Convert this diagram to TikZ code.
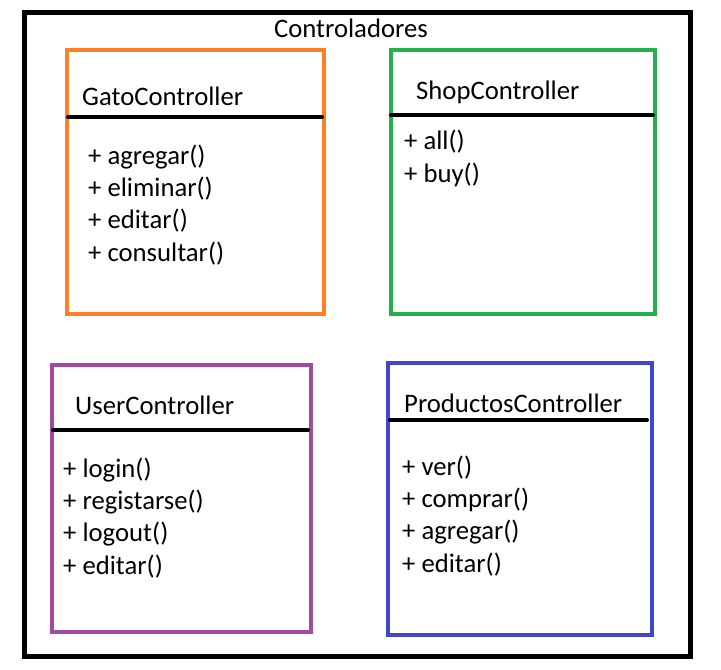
\documentclass[tikz,border=0pt]{standalone}
\usepackage{fontspec}
\setmainfont{Carlito}
\usetikzlibrary{positioning}

\definecolor{gatoorange}{HTML}{FF7F27}
\definecolor{shopgreen}{HTML}{22B14C}
\definecolor{userpurple}{HTML}{A349A4}
\definecolor{prodblue}{HTML}{3F48CC}

\begin{document}
\begin{tikzpicture}[
    x=1pt, y=-1pt,
    font=\fontsize{26.7}{32.3}\selectfont,
    % Styles
    frame/.style={draw=black, line width=5pt},
    ctrlbox/.style={line width=4pt},
    sepline/.style={draw=black, line width=4pt, line cap=round},
    ctitle/.style={anchor=base west, inner sep=0pt},
    cmethods/.style={anchor=base west, inner sep=0pt, align=left}
]
    \useasboundingbox (0,0) rectangle (721,670);

    % --- OUTER FRAME ---
    \draw[frame] (24,12) rectangle (690,656);
    \node[anchor=base, inner sep=0pt] (pkg) at (351,37) {Controladores};

    % --- GatoController ---
    \draw[ctrlbox, draw=gatoorange] (67,50) rectangle (324,314);
    \node[ctitle] (gato) at (82,105) {GatoController};
    \coordinate (gatoL) at (68,117);
    \coordinate (gatoR) at (322,117);
    \draw[sepline] (gatoL) -- (gatoR);
    % base anchor = last line
    \node[cmethods] (gatom) at (88,261) {+ agregar()\\+ eliminar()\\+ editar()\\+ consultar()};

    % --- ShopController ---
    \draw[ctrlbox, draw=shopgreen] (391,50) rectangle (655,314);
    \node[ctitle] (shop) at (416,99) {ShopController};
    \coordinate (shopL) at (391,115);
    \coordinate (shopR) at (653,115);
    \draw[sepline] (shopL) -- (shopR);
    \node[cmethods] (shopm) at (404,182) {+ all()\\+ buy()};

    % --- UserController ---
    \draw[ctrlbox, draw=userpurple] (52,365) rectangle (311,632);
    \node[ctitle] (user) at (75,414) {UserController};
    \coordinate (userL) at (53,430);
    \coordinate (userR) at (308,430);
    \draw[sepline] (userL) -- (userR);
    \node[cmethods] (userm) at (63,574) {+ login()\\+ registarse()\\+ logout()\\+ editar()};

    % --- ProductosController ---
    \draw[ctrlbox, draw=prodblue] (388,363) rectangle (652,635);
    \node[ctitle] (prod) at (404,412) {ProductosController};
    \coordinate (prodL) at (390,420);
    \coordinate (prodR) at (647,420);
    \draw[sepline] (prodL) -- (prodR);
    \node[cmethods] (prodm) at (402,572) {+ ver()\\+ comprar()\\+ agregar()\\+ editar()};

\end{tikzpicture}
\end{document}
